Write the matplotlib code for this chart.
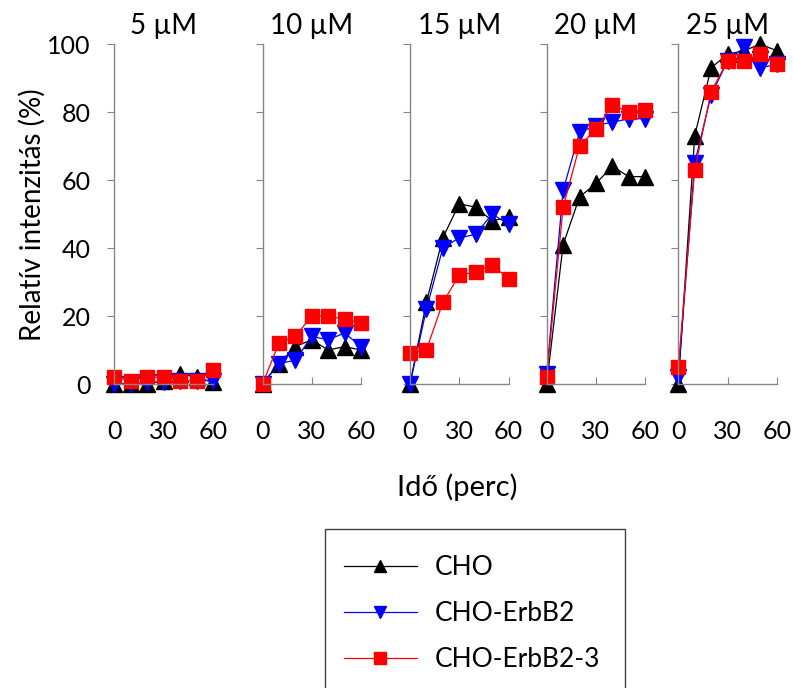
import matplotlib
matplotlib.use("Agg")
import matplotlib.pyplot as plt
from matplotlib.lines import Line2D
from matplotlib.patches import Rectangle

plt.rcParams["font.family"] = ["Lato", "DejaVu Sans"]

# time points (min) and concentrations
times = [0, 10, 20, 30, 40, 50, 60]
concentrations = ["5 µM", "10 µM", "15 µM", "20 µM", "25 µM"]
series_names = ["CHO", "CHO-ErbB2", "CHO-ErbB2-3"]

# relative intensity (%) per concentration, one list per cell line
cho = [
    [0, 0, 0, 1, 3, 2, 0.5],
    [0, 6, 11, 13, 10, 11, 10],
    [0, 24, 43, 53, 52, 48, 49],
    [0, 41, 55, 59, 64, 61, 61],
    [0, 73, 93, 97, 98, 100, 98],
]
erbb2 = [
    [0, 0, 0.5, 0.5, 1, 1, 1],
    [0, 6, 7, 14, 13, 15, 11],
    [0, 22, 40, 43, 44, 50, 47],
    [3, 57, 74, 76, 77, 78, 78],
    [2, 65, 85, 95, 99, 93, 94],
]
erbb2_3 = [
    [2, 1, 2, 2, 1, 1, 4],
    [0, 12, 14, 20, 20, 19, 18],
    [9, 10, 24, 32, 33, 35, 31],
    [2, 52, 70, 75, 82, 80, 80.5],
    [5, 63, 86, 95, 95, 97, 94],
]

colors = ["black", "#0000FF", "#FF0000"]
markers = ["^", "v", "s"]
msizes = [11, 11, 10]
spine_color = "#868686"

W, H = 794, 688
fig = plt.figure(figsize=(W / 100, H / 100), dpi=100)

panel_left = [114.5, 262.5, 410, 546.7, 678.3]
panel_w = 98.5
ax_bottom, ax_top = 384, 44

for i, left in enumerate(panel_left):
    ax = fig.add_axes([left / W, (H - ax_bottom) / H, panel_w / W, (ax_bottom - ax_top) / H])
    for data, c, m, ms in zip([cho, erbb2, erbb2_3], colors, markers, msizes):
        ax.plot(times, data[i], color=c, lw=0.9, marker=m, ms=ms, mec=c, mfc=c, clip_on=False)
    ax.set_xlim(0, 60)
    ax.set_ylim(0, 100)
    ax.set_xticks([0, 30, 60])
    ax.set_yticks(range(0, 101, 20))
    for s in ["top", "right"]:
        ax.spines[s].set_visible(False)
    for s in ["left", "bottom"]:
        ax.spines[s].set_color(spine_color)
        ax.spines[s].set_linewidth(1.0)
    ax.tick_params(axis="x", direction="in", length=5, color=spine_color, labelsize=18, pad=26)
    ax.tick_params(axis="y", direction="out", length=5, color=spine_color, labelsize=18, pad=12)
    if i > 0:
        ax.set_yticklabels([])
    ax.set_title(concentrations[i], fontsize=20, pad=7)
    ax.patch.set_visible(False)

fig.text(32 / W, 1 - 215 / H, "Relatív intenzitás (%)", rotation=90, ha="center", va="center", fontsize=20)
fig.text(457 / W, 1 - 487 / H, "Idő (perc)", ha="center", va="center", fontsize=21)

# legend with its frame running off the bottom edge
fig.patches.append(Rectangle((325 / W, -0.05), 300 / W, (H - 529) / H + 0.05,
                             transform=fig.transFigure, fill=False, ec="#404040", lw=1.0))
handles = [Line2D([], [], color=c, lw=0.9, marker=m, ms=ms * 0.8, mec=c, mfc=c)
           for c, m, ms in zip(colors, markers, msizes)]
fig.legend(handles, series_names, loc="upper left", bbox_to_anchor=(344 / W, 1 - 555 / H),
           frameon=False, fontsize=19, borderpad=0, borderaxespad=0,
           handlelength=2.75, handletextpad=0.7, labelspacing=0.8)

fig.savefig("out.png", dpi=100)
